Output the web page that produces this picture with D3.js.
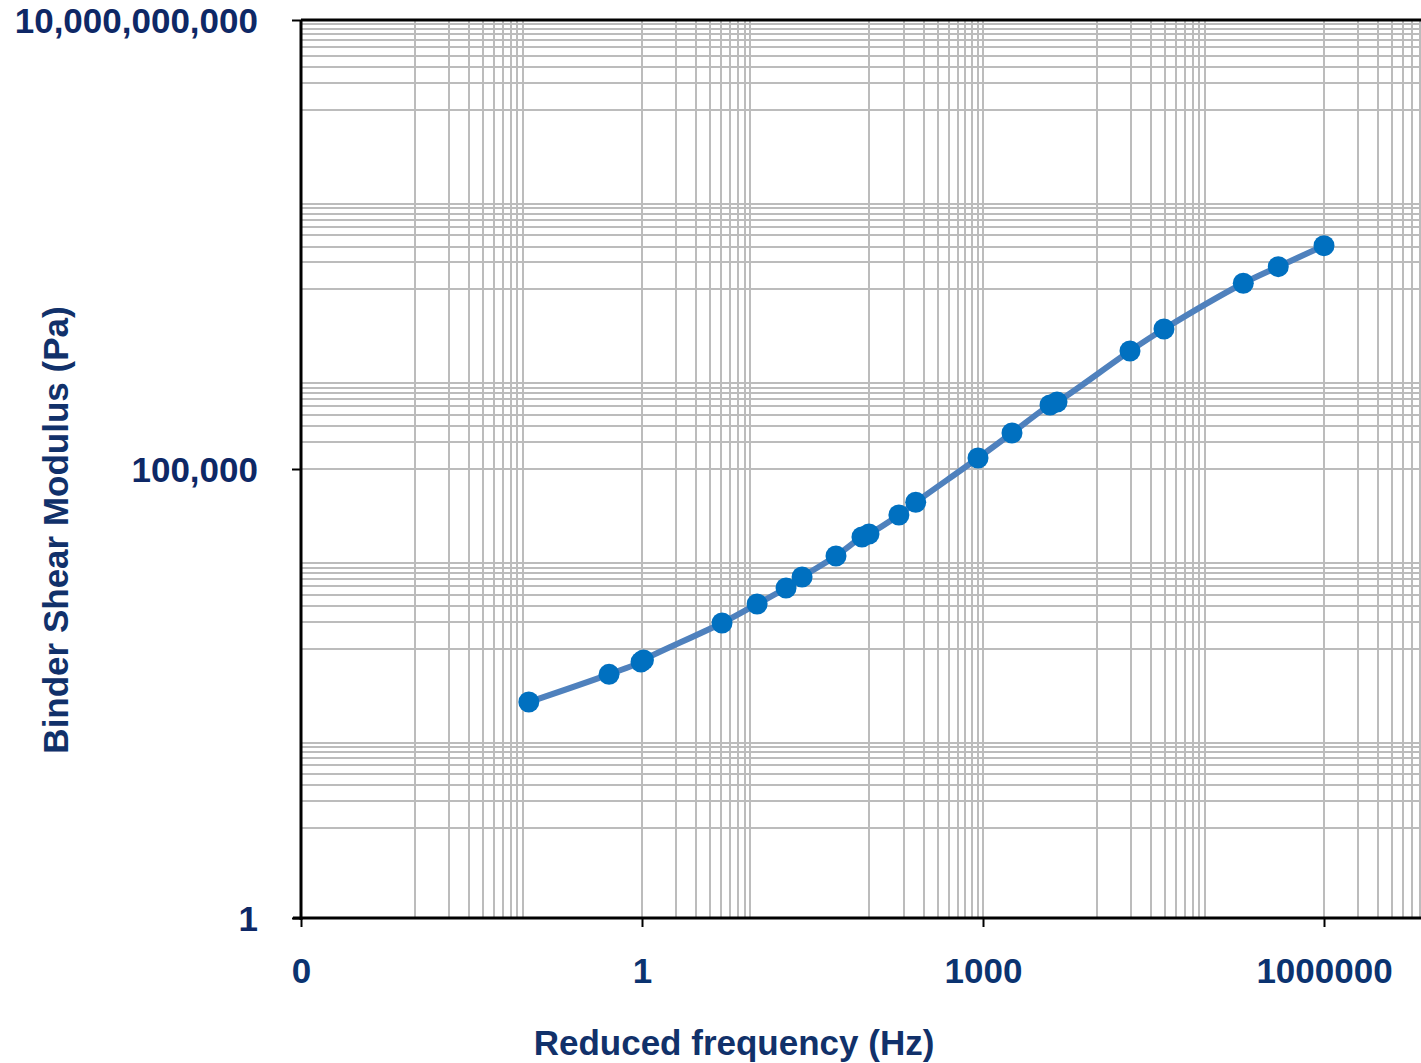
<!DOCTYPE html>
<html>
<head>
<meta charset="utf-8">
<script src="https://cdn.jsdelivr.net/npm/d3@7"></script>
<style>
  html, body { margin: 0; padding: 0; background: #fff; }
  svg { display: block; }
  text { font-family: "Liberation Sans", Arial, sans-serif; font-weight: bold; }
</style>
</head>
<body>
<svg id="chart" width="1421" height="1063"></svg>
<script>
// Reduced frequency (Hz) and binder shear modulus (Pa) of the master curve
const frequency = [0.101, 0.513, 0.98, 1.03, 5.06, 10.3, 18.5, 25.6, 50.9, 86.1, 99.3,
                   182, 256, 904, 1799, 3885, 4480, 19640, 39100, 195000, 396000, 1000000];
const modulus   = [254, 517, 709, 747, 1928, 3140, 4730, 6270, 10740, 17500, 18900,
                   30760, 42600, 132500, 251800, 516000, 557000, 2060000, 3620000,
                   11700000, 17900000, 30700000];

// Axis major ticks (log base 1000 on x, log base 100000 on y) and their labels
const xMajor = [0.001, 1, 1000, 1000000];
const xLabels = ["0", "1", "1000", "1000000"];
const yMajor = [1, 100000, 10000000000];
const yLabels = ["1", "100,000", "10,000,000,000"];

const xTitle = "Reduced frequency (Hz)";
const yTitle = "Binder Shear Modulus (Pa)";

const svg = d3.select("#chart");
const plotLeft = 301, plotBottom = 918, plotTop = 20, plotRight = 1421;
const decadeX = 1023 / 9;

const x = d3.scaleLog().domain([0.001, 1e9]).range([plotLeft, plotLeft + decadeX * 12]);
const y = d3.scaleLog().domain([1, 1e10]).range([plotBottom, plotTop]);

// Minor grid: every other decade, starting one decade above the axis minimum
function minorGrid(min, max) {
  const vals = [];
  for (let d = min * 10; d < max; d *= 100) {
    for (let k = 1; k <= 9; k++) vals.push(d * k);
  }
  return vals;
}
const xGrid = minorGrid(0.001, 1e9).concat(xMajor);
const yGrid = minorGrid(1, 1e10).concat(yMajor.slice(0, -1));

const gridColor = "#bcbcbc";
svg.append("g").selectAll("line").data(xGrid).join("line")
  .attr("x1", d => Math.round(x(d))).attr("x2", d => Math.round(x(d)))
  .attr("y1", plotTop).attr("y2", plotBottom)
  .attr("stroke", gridColor).attr("stroke-width", 2);
svg.append("g").selectAll("line").data(yGrid).join("line")
  .attr("x1", plotLeft).attr("x2", plotRight)
  .attr("y1", d => Math.round(y(d))).attr("y2", d => Math.round(y(d)))
  .attr("stroke", gridColor).attr("stroke-width", 2);

// Plot frame top edge
svg.append("line").attr("x1", plotLeft).attr("x2", plotRight)
  .attr("y1", plotTop).attr("y2", plotTop)
  .attr("stroke", "#000").attr("stroke-width", 3);

// Axes
const xAxis = d3.axisBottom(x).tickValues(xMajor).tickSize(9).tickFormat((d, i) => xLabels[i]);
const gx = svg.append("g").attr("transform", `translate(0,${plotBottom})`).call(xAxis);
gx.select(".domain").attr("stroke", "#000").attr("stroke-width", 3)
  .attr("d", `M${plotLeft - 8},0H${plotRight}`);
gx.selectAll(".tick line").attr("stroke", "#000").attr("stroke-width", 2);
gx.selectAll(".tick text").attr("fill", "#0b3370").attr("font-size", 35)
  .attr("y", 65).attr("dy", 0).style("font-family", "Liberation Sans, Arial, sans-serif")
  .style("font-weight", "bold");

const yAxis = d3.axisLeft(y).tickValues(yMajor).tickSize(9).tickFormat((d, i) => yLabels[i]);
const gy = svg.append("g").attr("transform", `translate(${plotLeft},0)`).call(yAxis);
gy.select(".domain").attr("stroke", "#000").attr("stroke-width", 3)
  .attr("d", `M0,${plotTop}V${plotBottom + 2}`);
gy.selectAll(".tick line").attr("stroke", "#000").attr("stroke-width", 2);
gy.selectAll(".tick text").attr("fill", "#0e2866").attr("font-size", 35)
  .attr("x", -43).attr("dy", "0.36em").style("font-family", "Liberation Sans, Arial, sans-serif")
  .style("font-weight", "bold");

// Axis titles
svg.append("text").attr("x", 734).attr("y", 1055).attr("text-anchor", "middle")
  .attr("font-size", 35).attr("fill", "#11316a").text(xTitle);
svg.append("text").attr("transform", "translate(68,530) rotate(-90)")
  .attr("text-anchor", "middle").attr("font-size", 35).attr("fill", "#11316a").text(yTitle);

// Master curve
const pts = frequency.map((f, i) => [f, modulus[i]]);
const line = d3.line().x(d => x(d[0])).y(d => y(d[1])).curve(d3.curveCatmullRom.alpha(0.5));
svg.append("path").datum(pts).attr("d", line)
  .attr("fill", "none").attr("stroke", "#4f81bd").attr("stroke-width", 6)
  .attr("stroke-linejoin", "round");
svg.append("g").selectAll("circle").data(pts).join("circle")
  .attr("cx", d => x(d[0])).attr("cy", d => y(d[1])).attr("r", 10.5)
  .attr("fill", "#0070c0");
</script>
</body>
</html>
